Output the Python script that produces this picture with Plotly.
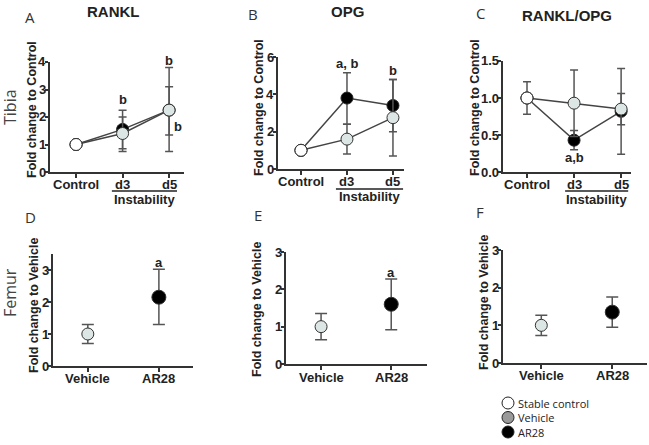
import plotly.graph_objects as go

W, H = 649, 445

# ---------------- data ----------------
tibia_cats = ["Control", "d3", "d5"]
femur_cats = ["Vehicle", "AR28"]

# RANKL (Tibia)
rankl_vehicle = [1.0, 1.40, 2.25]
rankl_vehicle_up = [0.0, 0.60, 1.55]
rankl_vehicle_dn = [0.0, 0.65, 1.50]
rankl_ar28 = [1.0, 1.55, 2.25]
rankl_ar28_up = [0.0, 0.70, 0.85]
rankl_ar28_dn = [0.0, 0.70, 0.90]
rankl_ctrl_err = [0.0]

# OPG (Tibia)
opg_vehicle = [1.0, 1.60, 2.75]
opg_vehicle_up = [0.0, 0.80, 2.05]
opg_vehicle_dn = [0.0, 0.80, 2.05]
opg_ar28 = [1.0, 3.80, 3.40]
opg_ar28_up = [0.0, 1.35, 1.40]
opg_ar28_dn = [0.0, 1.40, 1.40]
opg_ctrl_err = [0.0]

# RANKL/OPG (Tibia)
ratio_vehicle = [1.0, 0.93, 0.85]
ratio_vehicle_up = [0.0, 0.45, 0.21]
ratio_vehicle_dn = [0.0, 0.45, 0.21]
ratio_ar28 = [1.0, 0.43, 0.82]
ratio_ar28_up = [0.0, 0.13, 0.58]
ratio_ar28_dn = [0.0, 0.13, 0.58]
ratio_ctrl_err = [0.22]

# Femur D, E, F : [Vehicle, AR28]
femD = [1.0, 2.15]
femD_up = [0.30, 0.87]
femD_dn = [0.30, 0.85]
femE = [1.0, 1.60]
femE_up = [0.35, 0.68]
femE_dn = [0.35, 0.68]
femF = [1.0, 1.35]
femF_up = [0.27, 0.40]
femF_dn = [0.27, 0.40]

tibia_yticks = {"A": [0, 1, 2, 3, 4], "B": [0, 2, 4, 6], "C": [0, 0.5, 1.0, 1.5]}
femur_yticks = [0, 1, 2, 3]

legend_names = ["Stable control", "Vehicle", "AR28"]
legend_colors = ["white", "#9a9a9a", "black"]

VEH = "#dce7e5"
LINE = "#444444"
ERR = "#555555"
AXC = "#333333"
FONT = "Liberation Sans"

fig = go.Figure()


def px_x(p):
    return p / W


def px_y(p):
    return 1 - p / H


def tibia_panel(idx, veh, vup, vdn, ar, aup, adn, cerr):
    xa, ya = f"x{idx}", f"y{idx}"
    xs = list(range(len(tibia_cats)))
    fig.add_trace(go.Scatter(
        x=xs, y=ar, xaxis=xa, yaxis=ya, mode="lines+markers", showlegend=False,
        line=dict(color=LINE, width=1.5),
        marker=dict(size=12, opacity=1, color=["white", "black", "black"], line=dict(color="#222", width=1)),
        error_y=dict(type="data", symmetric=False, array=aup, arrayminus=adn,
                     color=ERR, thickness=1.5, width=4)))
    fig.add_trace(go.Scatter(
        x=xs, y=veh, xaxis=xa, yaxis=ya, mode="lines+markers", showlegend=False,
        line=dict(color=LINE, width=1.5),
        marker=dict(size=12, opacity=1, color=["white", VEH, VEH], line=dict(color="#333", width=1)),
        error_y=dict(type="data", symmetric=False, array=vup, arrayminus=vdn,
                     color=ERR, thickness=1.5, width=4)))
    fig.add_trace(go.Scatter(
        x=xs[:1], y=veh[:1], xaxis=xa, yaxis=ya, mode="markers", showlegend=False,
        marker=dict(size=12, opacity=1, color="white", line=dict(color="#333", width=1)),
        error_y=dict(type="data", array=cerr, color=ERR, thickness=1.5, width=4)))


def femur_panel(idx, vals, up, dn):
    xa, ya = f"x{idx}", f"y{idx}"
    xs = list(range(len(femur_cats)))
    fig.add_trace(go.Scatter(
        x=xs, y=vals, xaxis=xa, yaxis=ya, mode="markers", showlegend=False,
        marker=dict(size=[12, 14], opacity=1, color=[VEH, "black"], line=dict(color="#333", width=1)),
        error_y=dict(type="data", symmetric=False, array=up, arrayminus=dn,
                     color=ERR, thickness=1.5, width=6)))


tibia_panel(1, rankl_vehicle, rankl_vehicle_up, rankl_vehicle_dn,
            rankl_ar28, rankl_ar28_up, rankl_ar28_dn, rankl_ctrl_err)
tibia_panel(2, opg_vehicle, opg_vehicle_up, opg_vehicle_dn,
            opg_ar28, opg_ar28_up, opg_ar28_dn, opg_ctrl_err)
tibia_panel(3, ratio_vehicle, ratio_vehicle_up, ratio_vehicle_dn,
            ratio_ar28, ratio_ar28_up, ratio_ar28_dn, ratio_ctrl_err)
femur_panel(4, femD, femD_up, femD_dn)
femur_panel(5, femE, femE_up, femE_dn)
femur_panel(6, femF, femF_up, femF_dn)

# panel geometry (pixels)
panels = {
    1: dict(xl=50, xr=184, yt=62, yb=172, xrange=[-0.56, 2.32], yrange=[0, 4],
            ticks=tibia_yticks["A"], fmt="{:g}", cats=tibia_cats, lab_y=184),
    2: dict(xl=278, xr=404, yt=57, yb=169, xrange=[-0.5, 2.24], yrange=[0, 6],
            ticks=tibia_yticks["B"], fmt="{:g}", cats=tibia_cats, lab_y=181),
    3: dict(xl=503, xr=631, yt=61, yb=172, xrange=[-0.51, 2.21], yrange=[0, 1.5],
            ticks=tibia_yticks["C"], fmt="{:.1f}", cats=tibia_cats, lab_y=184),
    4: dict(xl=53, xr=193, yt=254, yb=366, xrange=[-0.49, 1.48], yrange=[0, 3.5],
            ticks=femur_yticks, fmt="{:g}", cats=femur_cats, lab_y=378),
    5: dict(xl=286, xr=427, yt=252, yb=364, xrange=[-0.5, 1.51], yrange=[0, 3],
            ticks=femur_yticks, fmt="{:g}", cats=femur_cats, lab_y=377),
    6: dict(xl=503, xr=647, yt=250, yb=363, xrange=[-0.54, 1.49], yrange=[0, 3],
            ticks=femur_yticks, fmt="{:g}", cats=femur_cats, lab_y=375),
}

lay = {}
annotations = []


def ann(text, x, y, size=13, bold=True, angle=0, color="#222", family=FONT,
        xref="paper", yref="paper", xanchor="center", yanchor="middle"):
    annotations.append(dict(
        text=text, x=x, y=y, xref=xref, yref=yref, showarrow=False, textangle=angle,
        xanchor=xanchor, yanchor=yanchor, borderpad=0,
        font=dict(family=family, size=size, color=color, weight="bold" if bold else "normal")))


for i, p in panels.items():
    sfx = "" if i == 1 else str(i)
    lay["xaxis" + sfx] = dict(
        domain=[px_x(p["xl"]), px_x(p["xr"])], anchor="y" + sfx if sfx else "y",
        range=p["xrange"], tickvals=list(range(len(p["cats"]))), showticklabels=False,
        showline=True, linecolor=AXC, linewidth=2, ticks="outside", ticklen=4,
        tickwidth=2, tickcolor=AXC, showgrid=False, zeroline=False, fixedrange=True)
    lay["yaxis" + sfx] = dict(
        domain=[px_y(p["yb"]), px_y(p["yt"])], anchor="x" + sfx if sfx else "x",
        range=p["yrange"], tickvals=p["ticks"], showticklabels=False,
        showline=True, linecolor=AXC, linewidth=2, ticks="outside", ticklen=3,
        tickwidth=2, tickcolor=AXC, showgrid=False, zeroline=False, fixedrange=True)
    for k, c in enumerate(p["cats"]):
        ann(c, k, px_y(p["lab_y"]), size=13, xref="x" + sfx)
    for t in p["ticks"]:
        ann(p["fmt"].format(t), px_x(p["xl"] - 3), t, size=13, yref="y" + sfx,
            xanchor="right")

# panel letters and titles
for lt, (x, y) in {"A": (30, 17), "B": (253, 14), "C": (480, 13),
                   "D": (30, 217), "E": (258, 215), "F": (480, 212)}.items():
    ann(lt, px_x(x), px_y(y), size=15, bold=False, color="#333", family="Open Sans")
for t, (x, y) in {"RANKL": (113, 11), "OPG": (347, 11), "RANKL/OPG": (567, 16)}.items():
    ann(t, px_x(x), px_y(y), size=15)

ann("Tibia", px_x(10), px_y(107), size=16, bold=False, angle=-90, color="#444", family="Open Sans")
ann("Femur", px_x(10), px_y(293), size=16, bold=False, angle=-90, color="#444", family="Open Sans")

for x, y in [(32, 110), (259, 108), (475, 108)]:
    ann("Fold change to Control", px_x(x), px_y(y), size=12.5, angle=-90)
for x, y in [(34, 306), (257, 310), (484, 303)]:
    ann("Fold change to Vehicle", px_x(x), px_y(y), size=12.5, angle=-90)

# significance letters
ann("b", 1, 2.62, xref="x", yref="y")
ann("b", 2, px_y(60), xref="x", yref="paper")
ann("b", 2.2, 1.66, xref="x", yref="y")
ann("a, b", 1, 5.65, xref="x2", yref="y2")
ann("b", 2, 5.3, xref="x2", yref="y2")
ann("b", 2.26, 1.98, xref="x2", yref="y2")
ann("a,b", 1, 0.2, xref="x3", yref="y3")
ann("a", 1, 3.22, xref="x4", yref="y4")
ann("a", 1, 2.44, xref="x5", yref="y5")

# "Instability" group labels with underline
shapes = []
for xr, x0, x1, yl, yt in [("x", 0.77, 2.17, 191, 199), ("x2", 0.76, 2.22, 189, 196),
                           ("x3", 0.81, 2.15, 191, 199)]:
    shapes.append(dict(type="line", xref=xr, yref="paper", x0=x0, x1=x1,
                       y0=px_y(yl), y1=px_y(yl), line=dict(color="#222", width=1.5)))
    ann("Instability", (x0 + x1) / 2, px_y(yt), size=13, xref=xr)

# legend (drawn as shapes + text)
for k, (nm, col) in enumerate(zip(legend_names, legend_colors)):
    cy = 403 + 14.5 * k
    shapes.append(dict(type="circle", xref="paper", yref="paper",
                       x0=px_x(502), x1=px_x(514), y0=px_y(cy + 6), y1=px_y(cy - 6),
                       fillcolor=col, line=dict(color="#222", width=1)))
    ann(nm, px_x(517), px_y(cy), size=11, bold=False, family="Open Sans",
        xanchor="left", color="#222")

fig.update_layout(
    width=W, height=H, margin=dict(l=0, r=0, t=0, b=0),
    paper_bgcolor="white", plot_bgcolor="white", showlegend=False,
    annotations=annotations, shapes=shapes, **lay)

fig.write_html("out.html", config={"displayModeBar": False},
               post_script="document.body.style.margin='0px';")
